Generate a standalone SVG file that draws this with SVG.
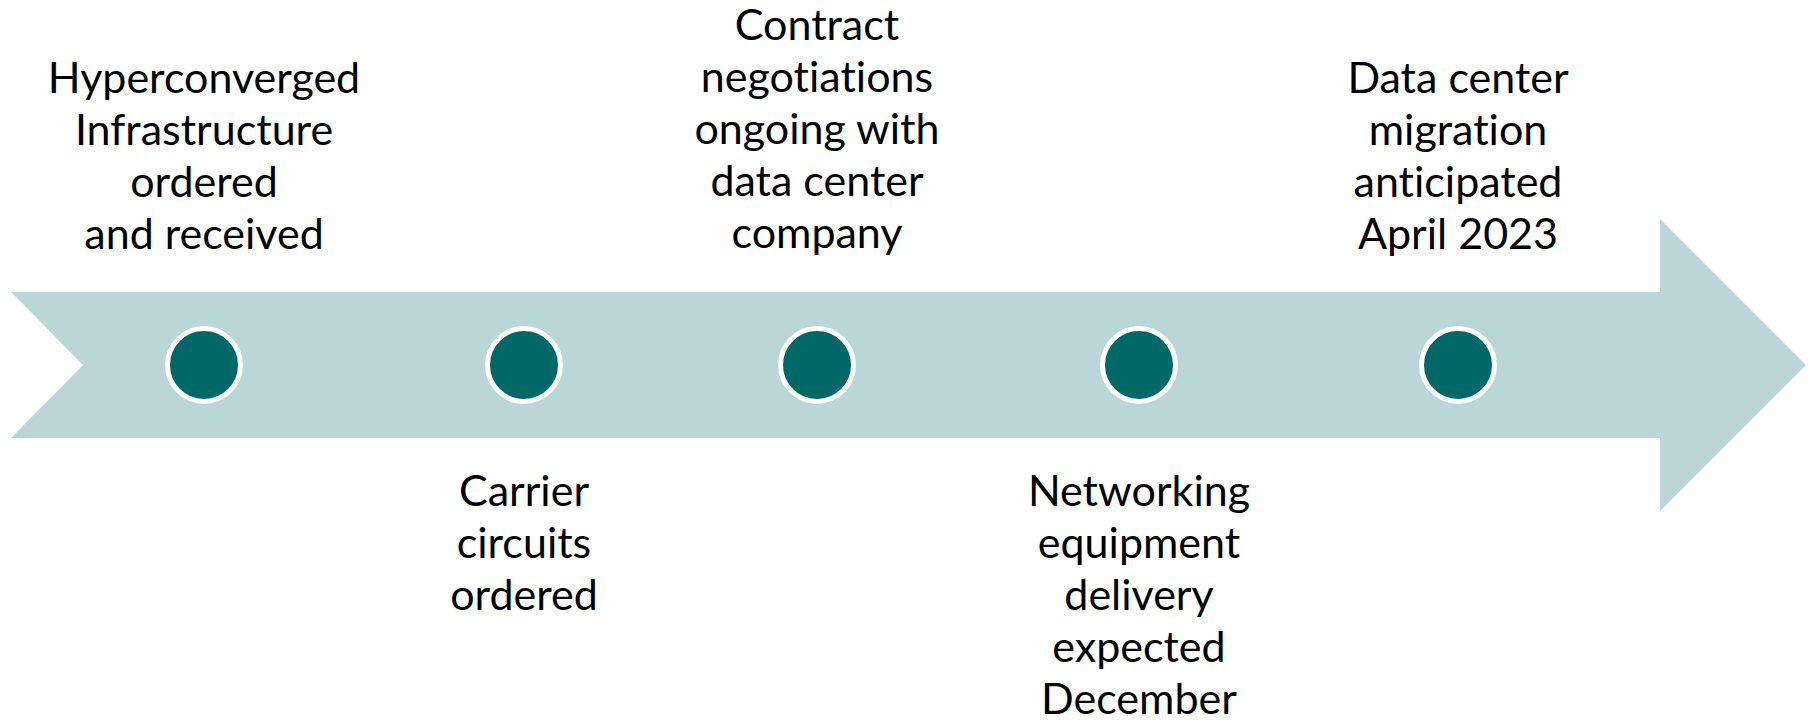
<svg xmlns="http://www.w3.org/2000/svg" width="1810" height="720" viewBox="0 0 1810 720">
<style>
.lbl{font-family:Lato,"Liberation Sans",sans-serif;font-size:43px;fill:#000;text-anchor:middle;font-variant-ligatures:none}
.dot{fill:#006967;stroke:#fff;stroke-width:5}
</style>
<rect width="1810" height="720" fill="#fff"/>
<g id="timeline-arrow">
<polygon points="11,292 1660,292 1660,219 1806,365 1660,511 1660,438 11,438 83,365" fill="#BAD6D7"/>
</g>
<g id="connectors"></g>
<g id="m1"><circle class="dot" cx="204" cy="365" r="36.5"/>
<text class="lbl"><tspan x="204" y="93">Hyperconverged</tspan><tspan x="204" y="145">Infrastructure</tspan><tspan x="204" y="197">ordered</tspan><tspan x="204" y="249">and received</tspan></text></g>
<g id="m2"><circle class="dot" cx="524" cy="365" r="36.5"/>
<text class="lbl"><tspan x="524" y="506">Carrier</tspan><tspan x="524" y="558">circuits</tspan><tspan x="524" y="610">ordered</tspan></text></g>
<g id="m3"><circle class="dot" cx="817" cy="365" r="36.5"/>
<text class="lbl"><tspan x="817" y="40">Contract</tspan><tspan x="817" y="92">negotiations</tspan><tspan x="817" y="144">ongoing with</tspan><tspan x="817" y="196">data center</tspan><tspan x="817" y="248">company</tspan></text></g>
<g id="m4"><circle class="dot" cx="1139" cy="365" r="36.5"/>
<text class="lbl"><tspan x="1139" y="506">Networking</tspan><tspan x="1139" y="558">equipment</tspan><tspan x="1139" y="610">delivery</tspan><tspan x="1139" y="662">expected</tspan><tspan x="1139" y="714">December</tspan></text></g>
<g id="m5"><circle class="dot" cx="1458" cy="365" r="36.5"/>
<text class="lbl"><tspan x="1458" y="93">Data center</tspan><tspan x="1458" y="145">migration</tspan><tspan x="1458" y="197">anticipated</tspan><tspan x="1458" y="249">April 2023</tspan></text></g>
</svg>
